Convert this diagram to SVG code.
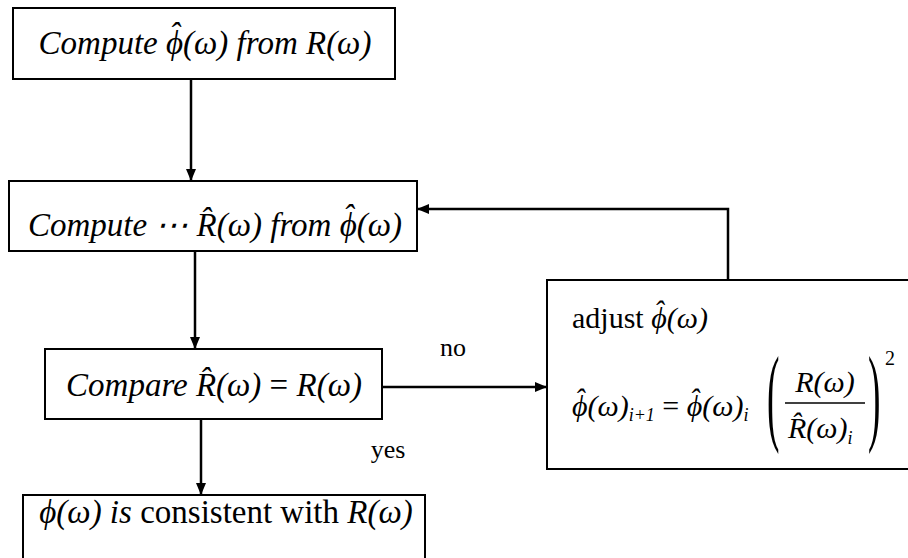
<svg xmlns="http://www.w3.org/2000/svg" width="908" height="558" viewBox="0 0 908 558">
<style>
.box{fill:#fff;stroke:#000;stroke-width:2}
.t{font-family:"Liberation Serif","Times New Roman",serif;font-size:30px;fill:#000}
.big{font-size:33px}
.i{font-style:italic}
.lbl{font-family:"Liberation Serif","Times New Roman",serif;font-size:26px;fill:#000}
.c{fill:none;stroke:#000;stroke-width:2.5}
.sub{font-size:18px}
</style>
<defs>
<marker id="ah" viewBox="0 0 12 10" refX="12" refY="5" markerWidth="12" markerHeight="10" markerUnits="userSpaceOnUse" orient="auto">
<path d="M0,0 L12,5 L0,10 z" fill="#000"/>
</marker>
</defs>
<g id="connectors">
<line class="c" x1="191" y1="79" x2="191" y2="181" marker-end="url(#ah)"/>
<line class="c" x1="195" y1="251" x2="195" y2="349" marker-end="url(#ah)"/>
<line class="c" x1="201" y1="419" x2="201" y2="495" marker-end="url(#ah)"/>
<line class="c" x1="382" y1="387" x2="547" y2="387" marker-end="url(#ah)"/>
<polyline class="c" points="728,280 728,209 417,209" marker-end="url(#ah)"/>
<text class="lbl" x="453" y="356" text-anchor="middle">no</text>
<text class="lbl" x="388" y="458" text-anchor="middle">yes</text>
</g>
<g id="n1">
<rect class="box" x="13" y="8" width="382" height="71"/>
<text class="t big i" x="205" y="54" text-anchor="middle">Compute ϕ<tspan dx="-14" dy="-8">ˆ</tspan><tspan dx="3" dy="8">(ω) from R(ω)</tspan></text>
</g>
<g id="n2">
<rect class="box" x="9" y="181" width="408" height="70"/>
<text class="t big i" x="215" y="236" text-anchor="middle">Compute ⋯ R̂(ω) from ϕ<tspan dx="-14" dy="-8">ˆ</tspan><tspan dx="3" dy="8">(ω)</tspan></text>
</g>
<g id="n3">
<rect class="box" x="45" y="349" width="337" height="70"/>
<text class="t big i" x="214" y="396" text-anchor="middle">Compare R̂(ω)<tspan style="font-style:normal"> = </tspan>R(ω)</text>
</g>
<g id="n4">
<rect class="box" x="23" y="495" width="402" height="70"/>
<text class="t big" x="226" y="523" text-anchor="middle"><tspan class="i">ϕ(ω) is</tspan> consistent  with <tspan class="i">R(ω)</tspan></text>
</g>
<g id="n5">
<rect class="box" x="547" y="280" width="370" height="189"/>
<text class="t" x="572" y="328">adjust <tspan class="i">ϕ<tspan dx="-13" dy="-7">ˆ</tspan><tspan dx="3" dy="7">(ω)</tspan></tspan></text>
<text class="t i" x="572" y="416">ϕ<tspan dx="-13" dy="-7">ˆ</tspan><tspan dx="3" dy="7">(ω)</tspan><tspan class="sub" dy="5">i+1</tspan><tspan style="font-style:normal" dy="-5"> = </tspan>ϕ<tspan dx="-13" dy="-7">ˆ</tspan><tspan dx="3" dy="7">(ω)</tspan><tspan class="sub" dy="5">i</tspan></text>
<text class="t" transform="translate(767,431) scale(0.35,1)" style="font-size:107px">(</text>
<text class="t i" x="825" y="392" text-anchor="middle">R(ω)</text>
<line x1="785" y1="403" x2="865" y2="403" stroke="#000" stroke-width="1.5"/>
<text class="t i" x="788" y="438">R̂(ω)<tspan class="sub" dy="6">i</tspan></text>
<text class="t" transform="translate(868,431) scale(0.35,1)" style="font-size:107px">)</text>
<text class="t" x="885" y="365" style="font-size:20px">2</text>
</g>
</svg>
